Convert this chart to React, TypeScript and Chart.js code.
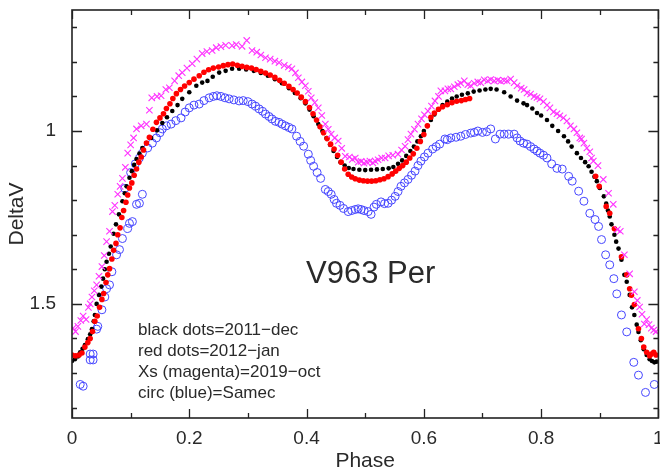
import React, { useEffect, useRef } from "react";
import { Chart, registerables } from "chart.js";

Chart.register(...registerables);

// ---- data -----------------------------------------------------------
const blackPhase = [
  0.000,0.005,0.010,0.014,0.018,0.022,0.027,0.031,0.034,0.037,
  0.039,0.042,0.046,0.050,0.053,0.056,0.059,0.063,0.066,0.071,
  0.075,0.080,0.086,0.090,0.093,0.098,0.102,0.106,0.110,0.115,
  0.120,0.127,0.135,0.145,0.154,0.162,0.171,0.180,0.188,0.200,
  0.212,0.222,0.231,0.240,0.251,0.262,0.273,0.285,0.297,0.310,
  0.322,0.334,0.346,0.358,0.370,0.380,0.390,0.398,0.405,0.412,
  0.420,0.427,0.434,0.440,0.446,0.452,0.458,0.465,0.472,0.480,
  0.490,0.500,0.510,0.520,0.530,0.540,0.548,0.556,0.563,0.570,
  0.577,0.583,0.589,0.595,0.600,0.606,0.612,0.618,0.625,0.632,
  0.640,0.648,0.656,0.665,0.675,0.685,0.695,0.705,0.714,0.724,
  0.737,0.748,0.759,0.770,0.776,0.785,0.793,0.800,0.810,0.819,
  0.829,0.839,0.846,0.852,0.861,0.868,0.875,0.881,0.886,0.891,
  0.895,0.900,0.907,0.911,0.914,0.917,0.920,0.925,0.928,0.932,
  0.937,0.942,0.946,0.951,0.955,0.959,0.963,0.966,0.970,0.975,
  0.980,0.985,0.989,0.993,0.997
];
const blackDeltaV = [
  1.665,1.660,1.652,1.640,1.630,1.619,1.602,1.588,1.573,1.550,
  1.532,1.500,1.474,1.450,1.427,1.400,1.378,1.355,1.334,1.297,
  1.270,1.241,1.203,1.180,1.160,1.135,1.116,1.098,1.081,1.065,
  1.049,1.035,1.020,0.998,0.977,0.960,0.942,0.925,0.907,0.888,
  0.869,0.860,0.855,0.843,0.831,0.826,0.820,0.820,0.822,0.826,
  0.832,0.840,0.850,0.862,0.876,0.890,0.905,0.920,0.938,0.957,
  0.980,1.000,1.020,1.040,1.058,1.075,1.090,1.100,1.107,1.110,
  1.112,1.113,1.112,1.111,1.110,1.108,1.104,1.095,1.085,1.072,
  1.058,1.045,1.030,1.015,1.000,0.985,0.968,0.952,0.937,0.925,
  0.915,0.906,0.900,0.895,0.891,0.886,0.883,0.880,0.878,0.880,
  0.888,0.900,0.912,0.920,0.925,0.935,0.948,0.955,0.968,0.985,
  1.000,1.015,1.030,1.045,1.064,1.078,1.090,1.102,1.118,1.132,
  1.145,1.165,1.189,1.210,1.230,1.247,1.270,1.300,1.320,1.340,
  1.372,1.416,1.436,1.474,1.510,1.532,1.560,1.581,1.605,1.631,
  1.648,1.660,1.665,1.669,1.667
];

const redPhase = [
  0.000,0.006,0.012,0.017,0.022,0.027,0.031,0.035,0.039,0.043,
  0.047,0.051,0.054,0.058,0.061,0.064,0.068,0.071,0.075,0.078,
  0.082,0.085,0.088,0.092,0.095,0.098,0.102,0.106,0.110,0.114,
  0.118,0.122,0.127,0.132,0.138,0.144,0.150,0.156,0.161,0.167,
  0.172,0.178,0.185,0.192,0.200,0.208,0.217,0.225,0.233,0.241,
  0.250,0.258,0.266,0.274,0.282,0.290,0.298,0.306,0.314,0.322,
  0.330,0.338,0.346,0.354,0.362,0.370,0.377,0.384,0.391,0.398,
  0.405,0.411,0.417,0.423,0.429,0.435,0.441,0.447,0.453,0.459,
  0.465,0.471,0.477,0.483,0.490,0.497,0.504,0.511,0.518,0.525,
  0.532,0.539,0.546,0.552,0.558,0.564,0.570,0.576,0.582,0.588,
  0.594,0.600,0.606,0.612,0.618,0.625,0.632,0.640,0.648,0.656,
  0.664,0.671,0.678,0.893,0.899,0.911,0.917,0.925,0.937,0.946,
  0.951,0.954,0.959,0.966,0.971,0.975,0.980,0.985,0.988,0.992,
  0.996
];
const redDeltaV = [
  1.648,1.650,1.648,1.642,1.625,1.612,1.600,1.580,1.550,1.535,
  1.510,1.487,1.470,1.438,1.416,1.398,1.370,1.345,1.325,1.300,
  1.280,1.250,1.230,1.206,1.185,1.165,1.150,1.128,1.110,1.090,
  1.075,1.055,1.035,1.018,0.995,0.975,0.962,0.950,0.935,0.921,
  0.906,0.892,0.880,0.870,0.860,0.850,0.840,0.830,0.823,0.818,
  0.815,0.811,0.808,0.806,0.810,0.813,0.816,0.818,0.822,0.827,
  0.832,0.838,0.845,0.853,0.862,0.871,0.880,0.890,0.902,0.915,
  0.932,0.950,0.968,0.988,1.005,1.022,1.038,1.052,1.070,1.090,
  1.110,1.125,1.133,1.138,1.142,1.144,1.145,1.145,1.144,1.141,
  1.138,1.132,1.124,1.116,1.108,1.100,1.090,1.078,1.066,1.050,
  1.030,1.010,0.985,0.960,0.948,0.937,0.930,0.924,0.918,0.914,
  0.912,0.909,0.906,1.131,1.160,1.218,1.238,1.283,1.364,1.416,
  1.456,1.475,1.502,1.572,1.600,1.625,1.640,1.650,1.645,1.640,
  1.648
];

const magentaPhase = [
  0.002,0.006,0.010,0.015,0.019,0.024,0.028,0.031,0.034,0.038,
  0.042,0.046,0.051,0.055,0.059,0.064,0.069,0.073,0.078,0.082,
  0.086,0.091,0.095,0.100,0.105,0.110,0.118,0.127,0.132,0.136,
  0.145,0.152,0.160,0.166,0.175,0.182,0.188,0.196,0.205,0.213,
  0.222,0.230,0.239,0.246,0.254,0.262,0.273,0.280,0.290,0.298,
  0.307,0.315,0.322,0.330,0.338,0.346,0.353,0.362,0.369,0.375,
  0.381,0.386,0.392,0.398,0.403,0.408,0.414,0.420,0.426,0.432,
  0.437,0.442,0.448,0.454,0.460,0.466,0.473,0.478,0.483,0.488,
  0.493,0.498,0.503,0.508,0.513,0.517,0.522,0.528,0.534,0.540,
  0.547,0.556,0.562,0.568,0.573,0.578,0.584,0.590,0.596,0.601,
  0.607,0.613,0.619,0.625,0.629,0.636,0.641,0.646,0.652,0.658,
  0.663,0.669,0.675,0.680,0.686,0.692,0.697,0.703,0.709,0.714,
  0.720,0.726,0.731,0.737,0.742,0.748,0.754,0.759,0.766,0.771,
  0.776,0.782,0.788,0.793,0.798,0.804,0.810,0.815,0.821,0.827,
  0.832,0.838,0.844,0.850,0.856,0.861,0.866,0.869,0.873,0.878,
  0.883,0.886,0.889,0.897,0.906,0.915,0.923,0.930,0.935,0.942,
  0.951,0.959,0.964,0.968,0.972,0.976,0.980,0.984,0.988,0.992,
  0.996
];
const magentaDeltaV = [
  1.570,1.580,1.565,1.548,1.535,1.545,1.510,1.500,1.480,1.462,
  1.445,1.420,1.392,1.360,1.320,1.290,1.233,1.215,1.183,1.160,
  1.137,1.105,1.064,1.040,1.020,0.994,0.985,0.980,0.940,0.904,
  0.900,0.898,0.880,0.875,0.855,0.840,0.831,0.818,0.805,0.792,
  0.776,0.770,0.767,0.759,0.756,0.752,0.753,0.750,0.755,0.738,
  0.767,0.772,0.780,0.788,0.792,0.798,0.802,0.810,0.815,0.820,
  0.832,0.846,0.858,0.869,0.885,0.904,0.918,0.933,0.955,0.980,
  0.995,1.009,1.020,1.029,1.050,1.073,1.075,1.082,1.078,1.090,
  1.088,1.093,1.090,1.087,1.092,1.087,1.083,1.078,1.078,1.072,
  1.070,1.067,1.055,1.044,1.025,1.009,0.995,0.980,0.965,0.953,
  0.942,0.928,0.913,0.900,0.884,0.884,0.878,0.878,0.872,0.866,
  0.862,0.855,0.866,0.869,0.862,0.858,0.860,0.852,0.855,0.851,
  0.855,0.853,0.856,0.854,0.855,0.850,0.860,0.869,0.876,0.880,
  0.890,0.893,0.900,0.903,0.907,0.915,0.925,0.933,0.945,0.950,
  0.956,0.962,0.971,0.985,0.994,1.005,1.020,1.023,1.035,1.049,
  1.060,1.078,1.087,1.100,1.140,1.180,1.212,1.285,1.290,1.358,
  1.413,1.465,1.490,1.509,1.530,1.558,1.545,1.560,1.570,1.576,
  1.580
];

const bluePhase = [
  0.014,0.019,0.031,0.031,0.036,0.036,0.042,0.044,0.051,0.056,
  0.059,0.064,0.068,0.076,0.081,0.086,0.090,0.095,0.098,0.103,
  0.110,0.115,0.120,0.100,0.108,0.115,0.120,0.129,0.137,0.144,
  0.150,0.154,0.161,0.169,0.177,0.186,0.193,0.200,0.208,0.217,
  0.225,0.234,0.241,0.247,0.254,0.261,0.268,0.276,0.285,0.292,
  0.300,0.307,0.313,0.319,0.325,0.330,0.336,0.341,0.347,0.353,
  0.358,0.364,0.370,0.375,0.383,0.389,0.395,0.403,0.407,0.412,
  0.418,0.424,0.432,0.437,0.442,0.447,0.451,0.457,0.463,0.471,
  0.477,0.483,0.488,0.493,0.498,0.505,0.510,0.515,0.519,0.527,
  0.533,0.539,0.545,0.551,0.556,0.561,0.567,0.573,0.579,0.585,
  0.590,0.595,0.601,0.607,0.615,0.621,0.627,0.636,0.640,0.646,
  0.655,0.663,0.671,0.680,0.686,0.692,0.700,0.707,0.714,0.722,
  0.730,0.737,0.745,0.754,0.759,0.764,0.770,0.776,0.782,0.788,
  0.793,0.798,0.804,0.810,0.818,0.827,0.836,0.847,0.853,0.864,
  0.873,0.883,0.892,0.898,0.903,0.910,0.917,0.924,0.929,0.937,
  0.946,0.958,0.966,0.978,0.993
];
const blueDeltaV = [
  1.733,1.738,1.645,1.662,1.645,1.662,1.573,1.565,1.517,1.480,
  1.456,1.445,1.407,1.358,1.343,1.311,1.166,1.282,1.267,1.262,
  1.212,1.209,1.183,1.120,1.095,1.078,1.064,1.049,1.035,1.020,
  1.005,0.994,0.985,0.980,0.970,0.962,0.945,0.933,0.925,0.922,
  0.912,0.904,0.900,0.898,0.900,0.904,0.907,0.910,0.913,0.912,
  0.915,0.922,0.928,0.936,0.943,0.951,0.958,0.965,0.972,0.975,
  0.980,0.985,0.990,0.994,1.015,1.030,1.044,1.067,1.085,1.102,
  1.120,1.137,1.169,1.175,1.183,1.198,1.209,1.215,1.224,1.233,
  1.230,1.227,1.225,1.227,1.230,1.233,1.241,1.220,1.212,1.205,
  1.210,1.209,1.200,1.189,1.175,1.160,1.150,1.140,1.128,1.116,
  1.100,1.087,1.075,1.064,1.052,1.045,1.038,1.023,1.025,1.020,
  1.018,1.015,1.010,1.006,1.004,1.000,1.004,1.002,0.994,1.023,
  1.009,1.009,1.009,1.009,1.020,1.029,1.035,1.038,1.045,1.052,
  1.058,1.064,1.070,1.078,1.095,1.108,1.110,1.131,1.145,1.174,
  1.203,1.238,1.256,1.276,1.314,1.358,1.387,1.427,1.471,1.532,
  1.581,1.669,1.706,1.756,1.733
];

const xTickValues = [0, 0.1, 0.2, 0.3, 0.4, 0.5, 0.6, 0.7, 0.8, 0.9, 1.0];
const xLabelValues = [0, 0.2, 0.4, 0.6, 0.8, 1.0];
const yTickValues = [0.7, 0.8, 0.9, 1.0, 1.1, 1.2, 1.3, 1.4, 1.5, 1.6, 1.7, 1.8];
const yLabelValues = [1.0, 1.5];

const xTitle = "Phase";
const yTitle = "DeltaV";
const starName = "V963 Per";
const noteLines = [
  "black dots=2011\u2212dec",
  "red dots=2012\u2212jan",
  "Xs (magenta)=2019\u2212oct",
  "circ (blue)=Samec",
];

// ---- helpers --------------------------------------------------------
const FONT = '"Liberation Sans", Arial, sans-serif';
const INK = "#2a2a2a";

const toPoints = (xs: number[], ys: number[]) =>
  xs.map((x, i) => ({ x, y: ys[i] }));

const isIn = (v: number, list: number[]) =>
  list.some((m) => Math.abs(m - v) < 1e-6);

const fmt = (v: number) => {
  const r = Math.round(v * 10) / 10;
  return Number.isInteger(r) ? String(r) : r.toFixed(1);
};

const framePlugin = {
  id: "frameTicks",
  afterDatasetsDraw(chart: any) {
    const { ctx, chartArea, scales } = chart;
    const { left, right, top, bottom } = chartArea;
    const xs = scales.x;
    const ys = scales.y;
    ctx.save();
    ctx.strokeStyle = "#222222";
    ctx.lineWidth = 1.6;
    ctx.strokeRect(left, top, right - left, bottom - top);
    ctx.lineWidth = 1.3;
    ctx.beginPath();
    xTickValues.forEach((v) => {
      const px = Math.round(xs.getPixelForValue(v)) + 0.5;
      const len = isIn(v, xLabelValues) ? 9 : 5;
      ctx.moveTo(px, bottom);
      ctx.lineTo(px, bottom - len);
      ctx.moveTo(px, top);
      ctx.lineTo(px, top + len);
    });
    yTickValues.forEach((v) => {
      const py = Math.round(ys.getPixelForValue(v)) + 0.5;
      const len = isIn(v, yLabelValues) ? 10 : 5;
      ctx.moveTo(left, py);
      ctx.lineTo(left + len, py);
      ctx.moveTo(right, py);
      ctx.lineTo(right - len, py);
    });
    ctx.stroke();
    ctx.restore();
  },
};

const notePlugin = {
  id: "notes",
  afterDraw(chart: any) {
    const { ctx, chartArea } = chart;
    ctx.save();
    ctx.fillStyle = INK;
    ctx.textAlign = "left";
    ctx.textBaseline = "alphabetic";
    ctx.font = `31px ${FONT}`;
    ctx.fillText(starName, chartArea.left + 234, chartArea.top + 273);
    ctx.font = `17px ${FONT}`;
    noteLines.forEach((t, i) => {
      ctx.fillText(t, chartArea.left + 66, chartArea.top + 325 + 21 * i);
    });
    ctx.restore();
  },
};

export default function App() {
  const canvasRef = useRef<HTMLCanvasElement | null>(null);

  useEffect(() => {
    const canvas = canvasRef.current;
    if (!canvas) return;
    const chart = new Chart(canvas, {
      type: "scatter",
      data: {
        datasets: [
          {
            label: "Samec",
            data: toPoints(bluePhase, blueDeltaV),
            pointStyle: "circle",
            pointRadius: 4,
            borderWidth: 1,
            borderColor: "#4646ff",
            backgroundColor: "rgba(0,0,0,0)",
            order: 4,
          },
          {
            label: "2011-dec",
            data: toPoints(blackPhase, blackDeltaV),
            pointStyle: "circle",
            pointRadius: 2.3,
            borderWidth: 0,
            backgroundColor: "#000000",
            borderColor: "#000000",
            order: 3,
          },
          {
            label: "2012-jan",
            data: toPoints(redPhase, redDeltaV),
            pointStyle: "circle",
            pointRadius: 2.8,
            borderWidth: 0,
            backgroundColor: "#ff0000",
            borderColor: "#ff0000",
            order: 2,
          },
          {
            label: "2019-oct",
            data: toPoints(magentaPhase, magentaDeltaV),
            pointStyle: "crossRot",
            pointRadius: 4.5,
            borderWidth: 1.1,
            borderColor: "#ff33ff",
            backgroundColor: "#ff33ff",
            order: 1,
          },
        ],
      },
      options: {
        animation: false,
        responsive: false,
        devicePixelRatio: 1,
        layout: { padding: { top: 10, right: 2, left: 0, bottom: 0 } },
        plugins: {
          legend: { display: false },
          tooltip: { enabled: false },
        },
        scales: {
          x: {
            type: "linear",
            min: 0,
            max: 1,
            afterBuildTicks: (s: any) => {
              s.ticks = xTickValues.map((v) => ({ value: v }));
            },
            afterFit: (s: any) => {
              s.height = 54;
              s.paddingLeft = 0;
              s.paddingRight = 0;
              s.paddingTop = 0;
              s.paddingBottom = 0;
            },
            grid: { display: false, drawTicks: false },
            border: { display: false },
            ticks: {
              autoSkip: false,
              maxRotation: 0,
              minRotation: 0,
              padding: 9,
              color: INK,
              font: { family: FONT, size: 19 },
              callback: (v: any) => (isIn(Number(v), xLabelValues) ? fmt(Number(v)) : ""),
            },
            title: {
              display: true,
              text: xTitle,
              color: INK,
              font: { family: FONT, size: 21, lineHeight: 1 },
              padding: { top: 0, bottom: 0 },
            },
          },
          y: {
            type: "linear",
            reverse: true,
            min: 0.65,
            max: 1.83,
            afterBuildTicks: (s: any) => {
              s.ticks = yTickValues.map((v) => ({ value: v }));
            },
            afterFit: (s: any) => {
              s.width = 72;
              s.paddingLeft = 0;
              s.paddingRight = 0;
              s.paddingTop = 0;
              s.paddingBottom = 0;
            },
            grid: { display: false, drawTicks: false },
            border: { display: false },
            ticks: {
              autoSkip: false,
              padding: 16,
              color: INK,
              font: { family: FONT, size: 19 },
              callback: (v: any) => (isIn(Number(v), yLabelValues) ? fmt(Number(v)) : ""),
            },
            title: {
              display: true,
              text: yTitle,
              color: INK,
              font: { family: FONT, size: 21, lineHeight: 1.2 },
              padding: { top: 5, bottom: 0 },
            },
          },
        },
      },
      plugins: [framePlugin, notePlugin],
    } as any);
    return () => chart.destroy();
  }, []);

  return (
    <div
      style={{
        position: "fixed",
        left: 0,
        top: 0,
        width: 660,
        height: 472,
        overflow: "hidden",
        background: "#ffffff",
      }}
    >
      <canvas ref={canvasRef} width={664} height={472} style={{ display: "block" }} />
    </div>
  );
}
